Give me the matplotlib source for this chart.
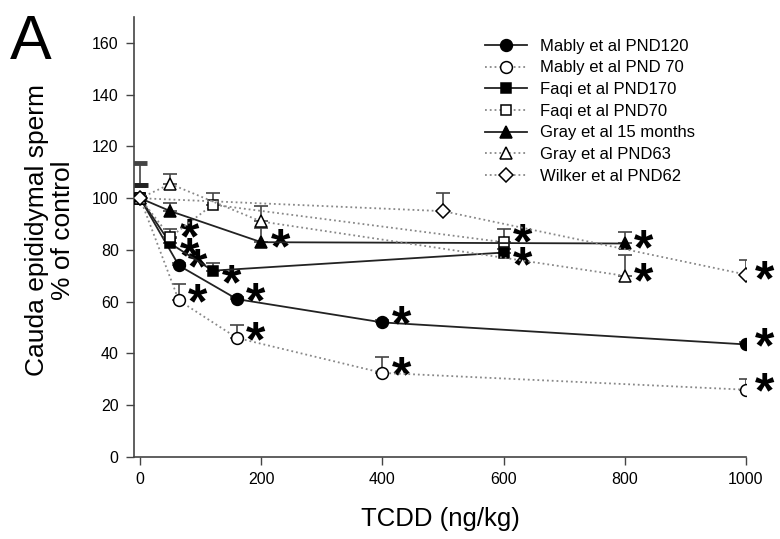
import matplotlib
matplotlib.use("Agg")
import matplotlib.pyplot as plt

plt.rcParams['font.family'] = ['Liberation Sans', 'DejaVu Sans']

# dose (ng/kg), % of control, upper error, significance flag
mably120_x = [0, 64, 160, 400, 1000]
mably120_y = [100, 74, 61, 52, 43.5]
mably120_err = [0, 1, 1, 1, 1]
mably120_sig = [0, 1, 1, 1, 1]

mably70_x = [0, 64, 160, 400, 1000]
mably70_y = [100, 60.5, 46, 32.5, 26]
mably70_err = [0, 6.5, 5, 6, 4]
mably70_sig = [0, 1, 1, 1, 1]

faqi170_x = [0, 50, 120, 600]
faqi170_y = [100, 82.5, 72, 79]
faqi170_err = [0, 2, 3, 1.5]
faqi170_sig = [0, 1, 1, 1]

faqi70_x = [0, 50, 120, 600]
faqi70_y = [100, 85, 97.5, 83]
faqi70_err = [0, 3, 4.5, 5]
faqi70_sig = [0, 1, 0, 1]

gray15_x = [0, 50, 200, 800]
gray15_y = [100, 95, 83, 82.5]
gray15_err = [0, 3, 5.5, 4.5]
gray15_sig = [0, 0, 1, 1]

gray63_x = [0, 50, 200, 800]
gray63_y = [100, 105.5, 91, 70]
gray63_err = [0, 4, 6, 8]
gray63_sig = [0, 0, 0, 1]

wilker_x = [0, 500, 1000]
wilker_y = [100, 95, 70.5]
wilker_err = [0, 7, 5.5]
wilker_sig = [0, 0, 1]

# stray control bar at dose 0
ctrl_x = [0]
ctrl_y = [105]
ctrl_err = [8.5]

labels = ['Mably et al PND120', 'Mably et al PND 70', 'Faqi et al PND170',
          'Faqi et al PND70', 'Gray et al 15 months', 'Gray et al PND63',
          'Wilker et al PND62']

series = [
    (mably120_x, mably120_y, mably120_err, mably120_sig, 'o', True, 8.5, 6),
    (mably70_x, mably70_y, mably70_err, mably70_sig, 'o', False, 8.5, 6),
    (faqi170_x, faqi170_y, faqi170_err, faqi170_sig, 's', True, 7, -5),
    (faqi70_x, faqi70_y, faqi70_err, faqi70_sig, 's', False, 7, 8),
    (gray15_x, gray15_y, gray15_err, gray15_sig, '^', True, 8, 3),
    (gray63_x, gray63_y, gray63_err, gray63_sig, '^', False, 8, 3),
    (wilker_x, wilker_y, wilker_err, wilker_sig, 'D', False, 7, 3),
]

fig = plt.figure(figsize=(7.8, 5.39), dpi=100)
ax = fig.add_axes([0.1718, 0.1521, 0.7846, 0.8163])

ax.errorbar(ctrl_x, ctrl_y, yerr=[[0], ctrl_err], fmt='_', color='#222222',
            ms=12, mew=3.5, ecolor='#444444', elinewidth=1.2, capsize=5,
            capthick=1.2, zorder=2)

for i, (x, y, e, sig, mk, filled, ms, sdy) in enumerate(series):
    ls = '-' if filled else ':'
    lc = '#222222' if filled else '#888888'
    z = 3 + i * 0.1 if i < 6 else 4
    ax.errorbar(x, y, yerr=[[0] * len(e), e], fmt='none', ecolor='#444444',
                elinewidth=1.2, capsize=5, capthick=1.2, zorder=z - 0.05)
    ax.plot(x, y, marker=mk, ls=ls, color=lc, lw=1.3, ms=ms, mec='black',
            mew=1.1, mfc='black' if filled else 'white', label=labels[i],
            zorder=z)
    for xx, yy, s in zip(x, y, sig):
        if s:
            ax.annotate('*', (xx, yy), xytext=(19, sdy - 24),
                        textcoords='offset pixels', ha='center', va='baseline',
                        fontsize=36, fontweight='bold', color='black')

ax.set_xlim(-10, 1000)
ax.set_ylim(0, 170)
ax.set_xticks(range(0, 1001, 200))
ax.set_yticks(range(0, 161, 20))
for s in ['top', 'right']:
    ax.spines[s].set_visible(False)
for s in ['left', 'bottom']:
    ax.spines[s].set_color('#444444')
    ax.spines[s].set_linewidth(1.2)
ax.tick_params(direction='out', length=6, width=1, color='#444444',
               labelsize=11.5, pad=5)

ax.set_xlabel('TCDD (ng/kg)', fontsize=18.5, labelpad=14)
ax.set_ylabel('Cauda epididymal sperm\n% of control', fontsize=19,
              linespacing=1.1)
ax.yaxis.set_label_coords(-0.097, 0.515)

fig.text(0.013, 0.975, 'A', fontsize=45, va='top', ha='left')

ax.legend(loc='upper left', bbox_to_anchor=(0.622, 0.928),
          bbox_transform=fig.transFigure, frameon=False, fontsize=12,
          handlelength=2.5, handletextpad=0.8, labelspacing=0.4,
          borderpad=0, borderaxespad=0)

fig.savefig('out.png', dpi=100)
